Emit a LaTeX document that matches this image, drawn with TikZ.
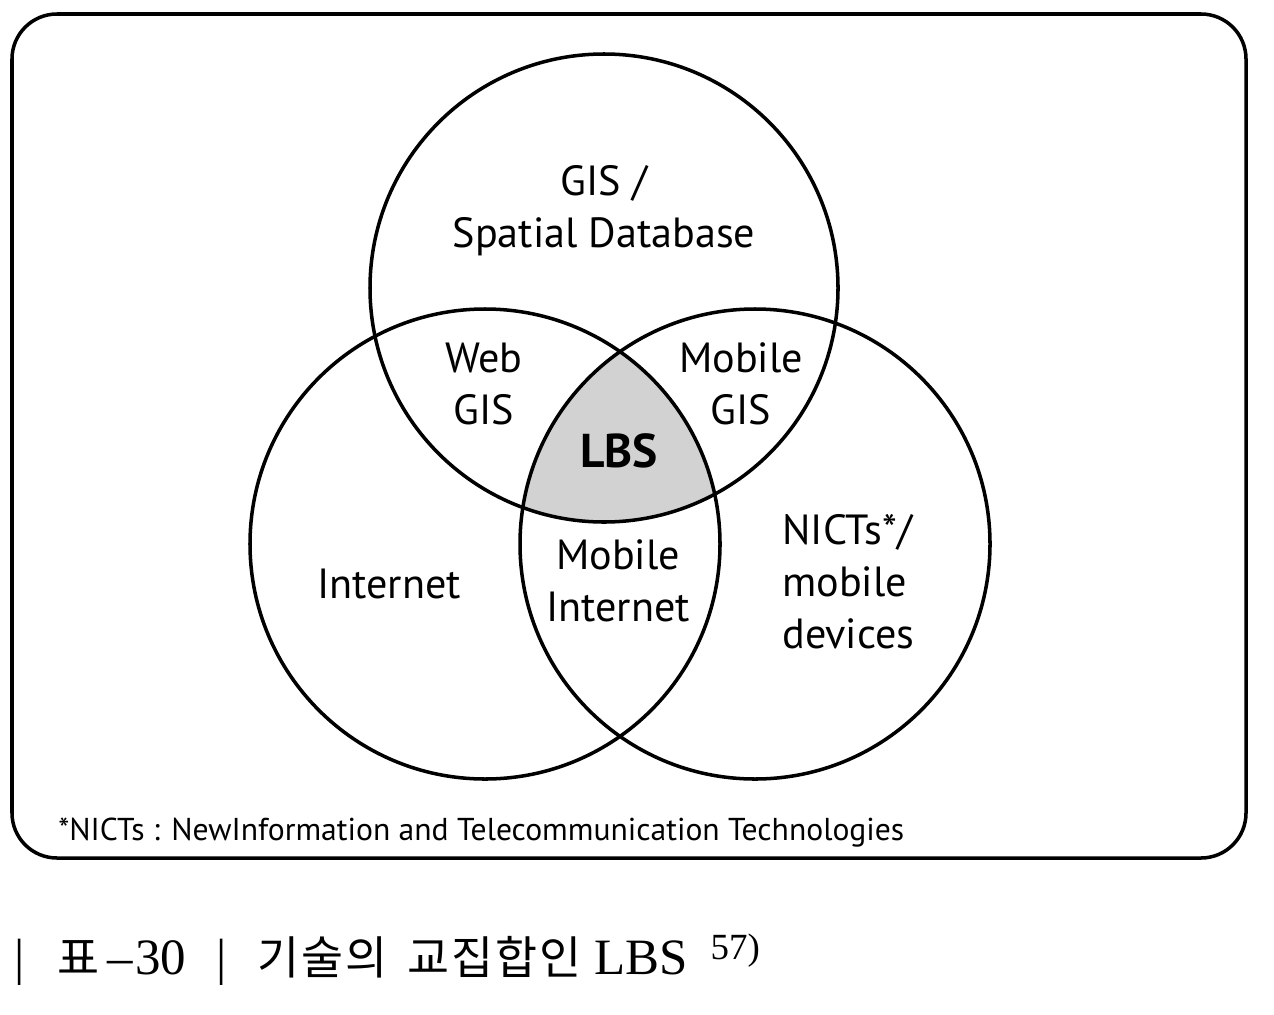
\documentclass[tikz,border=0pt]{standalone}
\usepackage{fontspec}
\setmainfont{PT Sans}
\newfontfamily\cjkfont[LetterSpace=4]{Noto Sans CJK KR}
\newfontfamily\capserif{Liberation Serif}
\usetikzlibrary{positioning}

\begin{document}
\begin{tikzpicture}[
    x=0.02cm, y=-0.02cm,
    ring/.style={draw, line width=2pt},
    label/.style={font=\fontsize{24}{29.5}\selectfont, align=center, inner sep=0pt},
    frame/.style={draw, line width=2pt, rounded corners=0.9cm},
]
\useasboundingbox (0,0) rectangle (1274,1014);

% Outer frame
\draw[frame] (12,14) rectangle (1246,858);

% Shaded intersection of the three sets
\begin{scope}
  \clip (604,288) circle (234);
  \clip (485,544) circle (235);
  \fill[gray!35] (755,544) circle (235);
\end{scope}

% Circles
\draw[ring] (604,288) circle (234);
\draw[ring] (485,544) circle (235);
\draw[ring] (755,544) circle (235);

% Labels
\node[label] (gis) at (604,211) {GIS /\\Spatial Database};
\node[label] (webgis) at (484,384) {Web\\GIS};
\node[label] (mobgis) at (741,384) {Mobile\\GIS};
\node[label, font=\fontsize{27}{30}\selectfont\bfseries] (lbs) at (619,451) {LBS};
\node[label] (mobnet) at (618,581) {Mobile\\Internet};
\node[label] (internet) at (389,584) {Internet};
\node[label, align=left, anchor=west] (nicts) at (782,582) {NICTs*/\\mobile\\devices};

% Footnote
\node[font=\fontsize{18}{21}\selectfont, anchor=west, inner sep=0pt] (note) at (58,833)
  {*NICTs : NewInformation and Telecommunication Technologies};

% Caption
\node[anchor=west, inner sep=0pt, font=\fontsize{29}{32}\capserif] (caption) at (14,960)
  {|\hspace{0.65em}{\fontsize{26}{30}\cjkfont 표}\hspace{0.15em}–\hspace{0.05em}30\hspace{0.6em}|\hspace{0.6em}{\fontsize{26}{30}\cjkfont 기술의\hspace{0.45em}교집합인}\hspace{0.25em}LBS\hspace{0.45em}\raisebox{0.3em}{\fontsize{21}{24}\selectfont 57)}};

\end{tikzpicture}
\end{document}
